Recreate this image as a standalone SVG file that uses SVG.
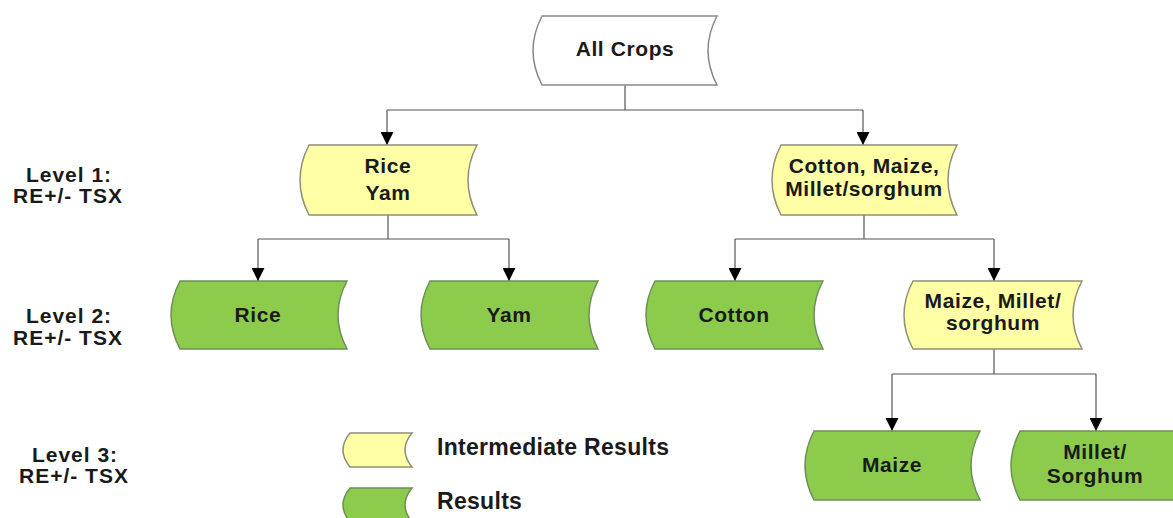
<svg xmlns="http://www.w3.org/2000/svg" width="1173" height="518" viewBox="0 0 1173 518">
<style>
.yel{fill:#FFFFA6;stroke:#8f8f78;stroke-width:1.5}
.grn{fill:#8DCB4C;stroke:#6f8f5a;stroke-width:1.5}
.wht{fill:#ffffff;stroke:#8a8a8a;stroke-width:1.5}
.t{font-family:"Liberation Sans",Arial,sans-serif;font-weight:bold;font-size:21px;fill:#1a1a1a;text-anchor:middle;letter-spacing:0.6px}
.lv{font-family:"Liberation Sans",Arial,sans-serif;font-weight:bold;font-size:21px;fill:#1a1a1a;text-anchor:middle;letter-spacing:1px}
.lg{font-family:"Liberation Sans",Arial,sans-serif;font-weight:bold;font-size:23px;fill:#1a1a1a;letter-spacing:0.3px}
.c{fill:none;stroke:#555555;stroke-width:1.2}
</style>
<defs>
<marker id="ah" markerUnits="userSpaceOnUse" markerWidth="13" markerHeight="13" refX="13" refY="6.5" orient="auto">
<path d="M0,0 L13,6.5 L0,13 Z" fill="#000"/>
</marker>
</defs>
<rect width="1173" height="518" fill="#ffffff"/>

<g id="connectors">
<path class="c" d="M625,85 V110 M387,110 H863"/>
<path class="c" d="M387,110 V145" marker-end="url(#ah)"/>
<path class="c" d="M863,110 V145" marker-end="url(#ah)"/>
<path class="c" d="M388,215 V239 M258,239 H509"/>
<path class="c" d="M258,239 V281" marker-end="url(#ah)"/>
<path class="c" d="M509,239 V281" marker-end="url(#ah)"/>
<path class="c" d="M864,215 V239 M735,239 H994"/>
<path class="c" d="M735,239 V281" marker-end="url(#ah)"/>
<path class="c" d="M994,239 V281" marker-end="url(#ah)"/>
<path class="c" d="M994,349 V374 M892,374 H1096"/>
<path class="c" d="M892,374 V431" marker-end="url(#ah)"/>
<path class="c" d="M1096,374 V431" marker-end="url(#ah)"/>
</g>

<g id="all-crops">
<path class="wht" d="M542,16 L717,16 Q699,50.5 717,85 L542,85 Q524,50.5 542,16 Z"/>
<text class="t" x="625" y="56">All Crops</text>
</g>

<g id="rice-yam">
<path class="yel" d="M309,145 L477,145 Q459,180 477,215 L309,215 Q291,180 309,145 Z"/>
<text class="t" x="388" y="173">Rice</text>
<text class="t" x="388" y="200">Yam</text>
</g>

<g id="cotton-maize-millet">
<path class="yel" d="M781,145 L957,145 Q939,180 957,215 L781,215 Q763,180 781,145 Z"/>
<text class="t" x="864" y="173">Cotton, Maize,</text>
<text class="t" x="864" y="196">Millet/sorghum</text>
</g>

<g id="rice">
<path class="grn" d="M180,281 L347,281 Q329,315 347,349 L180,349 Q162,315 180,281 Z"/>
<text class="t" x="258" y="322">Rice</text>
</g>

<g id="yam">
<path class="grn" d="M430,281 L598,281 Q580,315 598,349 L430,349 Q412,315 430,281 Z"/>
<text class="t" x="509" y="322">Yam</text>
</g>

<g id="cotton">
<path class="grn" d="M655,281 L823,281 Q805,315 823,349 L655,349 Q637,315 655,281 Z"/>
<text class="t" x="734" y="322">Cotton</text>
</g>

<g id="maize-millet-sorghum">
<path class="yel" d="M913,281 L1082,281 Q1064,315 1082,349 L913,349 Q895,315 913,281 Z"/>
<text class="t" x="993" y="308">Maize, Millet/</text>
<text class="t" x="993" y="330">sorghum</text>
</g>

<g id="maize">
<path class="grn" d="M814,431 L980,431 Q962,465.5 980,500 L814,500 Q796,465.5 814,431 Z"/>
<text class="t" x="892" y="472">Maize</text>
</g>

<g id="millet-sorghum">
<path class="grn" d="M1020,431 L1184,431 Q1166,465.5 1184,500 L1020,500 Q1002,465.5 1020,431 Z"/>
<text class="t" x="1095" y="459">Millet/</text>
<text class="t" x="1095" y="483">Sorghum</text>
</g>

<g id="level-labels">
<text class="lv" x="69" y="182">Level 1:</text>
<text class="lv" x="68" y="203">RE+/- TSX</text>
<text class="lv" x="69" y="323">Level 2:</text>
<text class="lv" x="68" y="345">RE+/- TSX</text>
<text class="lv" x="75" y="462">Level 3:</text>
<text class="lv" x="74" y="483">RE+/- TSX</text>
</g>

<g id="legend">
<path class="yel" d="M350,433 L412,433 Q398,450 412,467 L350,467 Q336,450 350,433 Z"/>
<text class="lg" x="437" y="455">Intermediate Results</text>
<path class="grn" d="M350,488 L412,488 Q398,505 412,522 L350,522 Q336,505 350,488 Z"/>
<text class="lg" x="437" y="509">Results</text>
</g>
</svg>
